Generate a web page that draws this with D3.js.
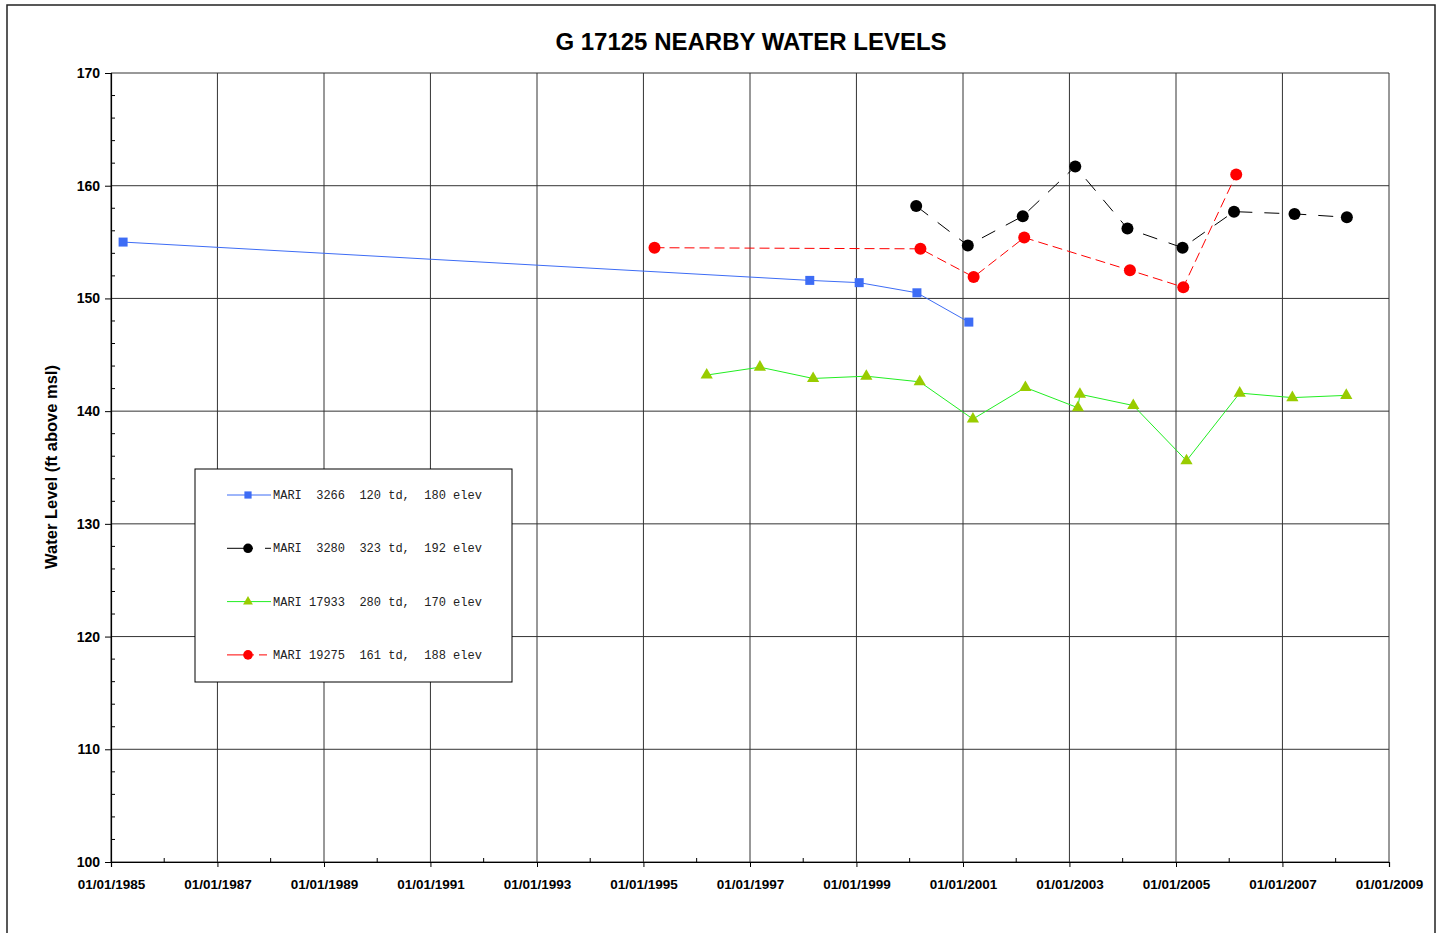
<!DOCTYPE html>
<html>
<head>
<meta charset="utf-8">
<script src="https://cdn.jsdelivr.net/npm/d3@7"></script>
<style>
    body { margin: 0; background: #fff; }
    svg { display: block; }
</style>
</head>
<body>
<div id="chart"></div>
<script>
// reading dates (yyyy-mm-dd) and levels (ft above msl), one pair of arrays per well
const mari3266Dates = ["1985-03-25", "1998-02-15", "1999-01-20", "2000-02-20", "2001-02-10"];
const mari3266Levels = [155.0, 151.6, 151.4, 150.5, 147.9];

const mari3280Dates = ["2000-02-15", "2001-02-03", "2002-02-15", "2003-02-10", "2004-02-03",
    "2005-02-15", "2006-02-03", "2007-03-25", "2008-03-18"];
const mari3280Levels = [158.2, 154.7, 157.3, 161.7, 156.2, 154.5, 157.7, 157.5, 157.2];

const mari17933Dates = ["1996-03-10", "1997-03-10", "1998-03-10", "1999-03-10", "2000-03-10",
    "2001-03-10", "2002-03-05", "2003-02-28", "2003-03-14", "2004-03-14", "2005-03-14",
    "2006-03-14", "2007-03-10", "2008-03-14"];
const mari17933Levels = [143.2, 143.9, 142.9, 143.1, 142.6, 139.3, 142.1, 140.3, 141.5,
    140.5, 135.6, 141.6, 141.2, 141.4];

const mari19275Dates = ["1995-03-18", "2000-03-15", "2001-03-15", "2002-02-25", "2004-02-20",
    "2005-02-20", "2006-02-18"];
const mari19275Levels = [154.5, 154.4, 151.9, 155.4, 152.5, 151.0, 161.0];

const legendLabels = [
    "MARI  3266  120 td,  180 elev",
    "MARI  3280  323 td,  192 elev",
    "MARI 17933  280 td,  170 elev",
    "MARI 19275  161 td,  188 elev"
];

const xTickYears = [1985, 1987, 1989, 1991, 1993, 1995, 1997, 1999, 2001, 2003, 2005, 2007, 2009];
const yDomain = [100, 170];

document.addEventListener("DOMContentLoaded", function () {

    const margin = { top: 73, left: 111 },
        width = 1278,
        height = 789;

    const parse = d3.utcParse("%Y-%m-%d");
    const zip = (dates, levels) => dates.map((d, i) => ({ date: parse(d), level: levels[i] }));
    const jan1 = yr => new Date(Date.UTC(yr, 0, 1));

    const series = [
        { name: legendLabels[0], data: zip(mari3266Dates, mari3266Levels), line: "#3d6cf5", dash: null,
          marker: "square", fill: "#3d6cf5", size: 9, legendDash: null },
        { name: legendLabels[1], data: zip(mari3280Dates, mari3280Levels), line: "#000", dash: "15,12",
          marker: "circle", fill: "#000", size: 12, legendDash: "26,12,7,100" },
        { name: legendLabels[2], data: zip(mari17933Dates, mari17933Levels), line: "#22ee22", dash: null,
          marker: "triangle", fill: "#99cc00", size: 12, legendDash: null },
        { name: legendLabels[3], data: zip(mari19275Dates, mari19275Levels), line: "#ff0000", dash: "10,5",
          marker: "circle", fill: "#ff0000", size: 12, legendDash: "27,5,8,100" }
    ];

    const svg = d3.select("#chart")
        .append("svg")
        .attr("width", 1442)
        .attr("height", 933);

    // outer frame
    svg.append("rect")
        .attr("x", 7).attr("y", 5)
        .attr("width", 1428).attr("height", 940)
        .attr("fill", "#fff")
        .attr("stroke", "#222")
        .attr("stroke-width", 1.5);

    svg.append("text")
        .attr("x", 751)
        .attr("y", 50)
        .attr("text-anchor", "middle")
        .style("font-family", "'Liberation Sans', Arial, sans-serif")
        .style("font-weight", "bold")
        .style("font-size", "24px")
        .text("G 17125 NEARBY WATER LEVELS");

    const chart = svg.append("g")
        .attr("transform", `translate(${margin.left},${margin.top})`);

    const x = d3.scaleUtc()
        .domain([jan1(xTickYears[0]), jan1(xTickYears[xTickYears.length - 1])])
        .range([0, width]);

    const y = d3.scaleLinear()
        .domain(yDomain)
        .range([height, 0]);

    const majorX = xTickYears.map(jan1);
    const minorX = d3.range(xTickYears[0] + 1, xTickYears[xTickYears.length - 1], 2).map(jan1);
    const majorY = d3.range(yDomain[0], yDomain[1] + 1, 10);
    const minorY = d3.range(yDomain[0], yDomain[1], 2).filter(v => v % 10 !== 0);

    // grid
    chart.selectAll(".vgrid")
        .data(majorX)
        .enter()
        .append("line")
        .attr("x1", d => x(d)).attr("x2", d => x(d))
        .attr("y1", 0).attr("y2", height)
        .attr("stroke", "#333")
        .attr("stroke-width", 1);

    chart.selectAll(".hgrid")
        .data(majorY)
        .enter()
        .append("line")
        .attr("x1", 0).attr("x2", width)
        .attr("y1", d => y(d)).attr("y2", d => y(d))
        .attr("stroke", "#333")
        .attr("stroke-width", 1);

    // axes
    const xAxis = chart.append("g")
        .attr("transform", `translate(0,${height})`)
        .call(d3.axisBottom(x)
            .tickValues(majorX)
            .tickFormat(d3.utcFormat("%m/%d/%Y"))
            .tickSize(5)
            .tickPadding(12));
    xAxis.selectAll("text")
        .style("font-family", "'Liberation Sans', Arial, sans-serif")
        .style("font-weight", "bold")
        .style("font-size", "13.5px")
        .attr("fill", "#000");

    chart.append("g")
        .attr("transform", `translate(0,${height})`)
        .selectAll("line")
        .data(minorX)
        .enter()
        .append("line")
        .attr("x1", d => x(d)).attr("x2", d => x(d))
        .attr("y1", 0).attr("y2", -4)
        .attr("stroke", "#000");

    const yAxis = chart.append("g")
        .call(d3.axisLeft(y)
            .tickValues(majorY)
            .tickSize(6)
            .tickPadding(5));
    yAxis.selectAll("text")
        .style("font-family", "'Liberation Sans', Arial, sans-serif")
        .style("font-weight", "bold")
        .style("font-size", "14px")
        .attr("fill", "#000");

    chart.append("g")
        .selectAll("line")
        .data(minorY)
        .enter()
        .append("line")
        .attr("x1", 0).attr("x2", 4)
        .attr("y1", d => y(d)).attr("y2", d => y(d))
        .attr("stroke", "#000");

    chart.selectAll(".domain").attr("stroke", "#000").attr("stroke-width", 1.2);

    svg.append("text")
        .attr("transform", "translate(57,467) rotate(-90)")
        .attr("text-anchor", "middle")
        .style("font-family", "'Liberation Sans', Arial, sans-serif")
        .style("font-weight", "bold")
        .style("font-size", "16.5px")
        .text("Water Level (ft above msl)");

    // lines + markers
    const line = d3.line()
        .x(d => x(d.date))
        .y(d => y(d.level));

    const symbolFor = s => {
        if (s.marker === "square") return d3.symbol(d3.symbolSquare, s.size * s.size)();
        if (s.marker === "triangle") return d3.symbol(d3.symbolTriangle, s.size * s.size * 0.45)();
        return d3.symbol(d3.symbolCircle, Math.PI * (s.size / 2) * (s.size / 2))();
    };

    series.forEach(s => {
        chart.append("path")
            .datum(s.data)
            .attr("fill", "none")
            .attr("stroke", s.line)
            .attr("stroke-width", 1)
            .attr("stroke-dasharray", s.dash)
            .attr("d", line);
    });

    series.forEach(s => {
        chart.selectAll(null)
            .data(s.data)
            .enter()
            .append("path")
            .attr("transform", d => `translate(${x(d.date)},${y(d.level)})`)
            .attr("d", symbolFor(s))
            .attr("fill", s.fill);
    });

    // legend
    const legend = svg.append("g")
        .attr("transform", "translate(195,469)");

    legend.append("rect")
        .attr("width", 317)
        .attr("height", 213)
        .attr("fill", "#fff")
        .attr("stroke", "#000")
        .attr("stroke-width", 1);

    series.forEach((s, i) => {
        const ly = 26 + i * 53.3;
        legend.append("line")
            .attr("x1", 32).attr("x2", 76)
            .attr("y1", ly).attr("y2", ly)
            .attr("stroke", s.line)
            .attr("stroke-width", 1)
            .attr("stroke-dasharray", s.legendDash);
        legend.append("path")
            .attr("transform", `translate(53,${ly})`)
            .attr("d", symbolFor({ marker: s.marker, size: s.size * 0.8 }))
            .attr("fill", s.fill);
        legend.append("text")
            .attr("x", 78)
            .attr("y", ly + 4)
            .attr("xml:space", "preserve")
            .style("white-space", "pre")
            .style("font-family", "'Liberation Mono', 'Courier New', monospace")
            .style("font-size", "12px")
            .attr("fill", "#222")
            .text(s.name);
    });
});
</script>
</body>
</html>
